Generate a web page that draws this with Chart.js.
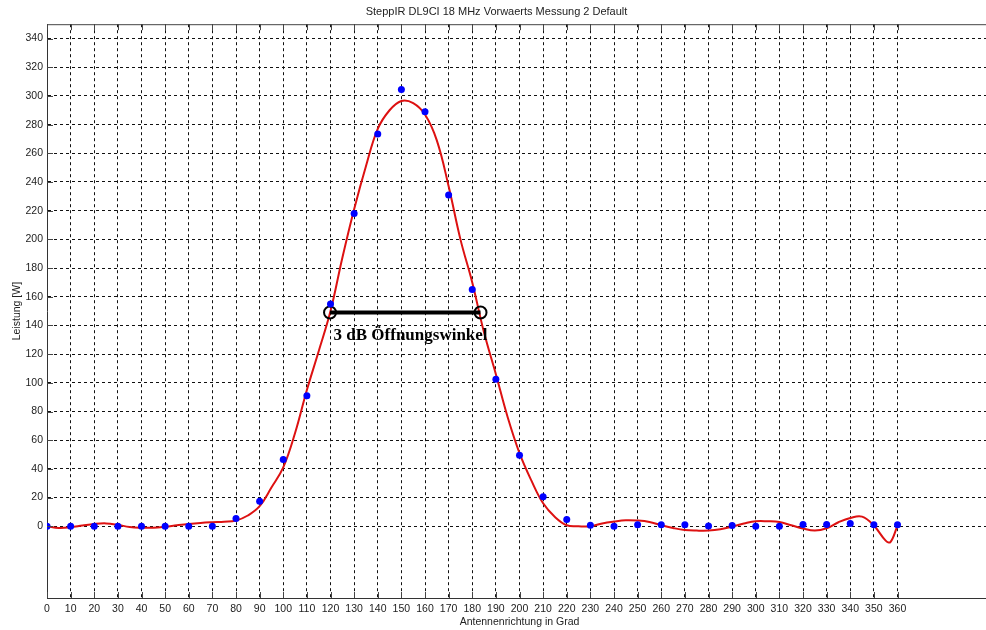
<!DOCTYPE html>
<html>
<head>
<meta charset="utf-8">
<script src="https://cdn.jsdelivr.net/npm/chart.js@4"></script>
<style>
  body { margin: 0; background: #fff; overflow: hidden; }
</style>
</head>
<body>
<canvas id="diagramm" width="1000" height="630"></canvas>
<script>
// Messpunkte (blaue Punkte)
const winkel = [0, 10, 20, 30, 40, 50, 60, 70, 80, 90, 100, 110, 120, 130, 140, 150, 160, 170, 180,
                190, 200, 210, 220, 230, 240, 250, 260, 270, 280, 290, 300, 310, 320, 330, 340, 350, 360];
const leistung = [0, 0, 0, 0, 0, 0, 0, 0, 5.5, 17.5, 46.5, 91, 155, 218, 273.5, 304.5, 289, 231, 165,
                  102.5, 49.5, 20.5, 4.7, 0.7, 0, 1, 1, 1, 0.2, 0.5, 0, 0, 1.2, 1.2, 2, 1, 1];

// rote Ausgleichskurve
const kurveWinkel = [0, 5, 10, 15, 20, 25, 30, 35, 40, 45, 50, 55, 60, 65, 70, 75, 80, 85, 90, 95,
                     100, 105, 110, 115, 120, 125, 130, 135, 140, 145, 150, 155, 160, 165, 170, 175, 180,
                     185, 190, 195, 200, 205, 210, 215, 220, 225, 230, 235, 240, 245, 250, 255, 260, 265,
                     270, 275, 280, 285, 290, 295, 300, 305, 310, 315, 320, 325, 330, 335, 340, 345, 350,
                     355, 357, 360];
const kurveWerte = [0, -1.2, -0.7, 0.5, 1.6, 2, 1, -0.5, -1, -1, -0.3, 0.7, 1.6, 2.3, 2.8, 3.2, 4, 7.5, 14, 27,
                    41, 65, 95, 122, 150, 187, 221, 251, 277, 290, 296.5, 295, 287, 269, 237, 200, 170,
                    135, 106, 76, 51, 32, 16, 6.5, 0.7, 0, 0, 2, 3.3, 4.2, 4, 3, 0.7, -1.2,
                    -2.6, -3, -3, -2.1, -0.2, 1.9, 3.5, 3.5, 3, 0.7, -1.6, -3, -1.4, 2.8, 5.8, 6.7, 0.5,
                    -10, -11, 0.5];

// 3 dB Oeffnungswinkel
const dbWinkel = [119.8, 183.5];
const dbWert = [149, 149];

const xTicks = [0, 10, 20, 30, 40, 50, 60, 70, 80, 90, 100, 110, 120, 130, 140, 150, 160, 170, 180,
                190, 200, 210, 220, 230, 240, 250, 260, 270, 280, 290, 300, 310, 320, 330, 340, 350, 360];
const yTicks = [0, 20, 40, 60, 80, 100, 120, 140, 160, 180, 200, 220, 240, 260, 280, 300, 320, 340];

const achsenSchrift = { family: "'Liberation Sans', Arial, sans-serif", size: 10.5 };

// Rahmen oben, Striche innen, Beschriftung
const rahmen = {
    id: "rahmen",
    afterDatasetsDraw(chart) {
        const c = chart.ctx;
        const a = chart.chartArea;
        const sx = chart.scales.x;
        const sy = chart.scales.y;
        c.save();
        c.strokeStyle = "#444";
        c.lineWidth = 1;
        c.beginPath();
        c.moveTo(a.left, a.top + 0.5);
        c.lineTo(a.right, a.top + 0.5);
        xTicks.forEach(v => {
            const px = Math.round(sx.getPixelForValue(v)) + 0.5;
            c.moveTo(px, a.top);
            c.lineTo(px, a.top + 6);
            c.moveTo(px, a.bottom);
            c.lineTo(px, a.bottom - 6);
        });
        yTicks.forEach(v => {
            const py = Math.round(sy.getPixelForValue(v)) + 0.5;
            c.moveTo(a.left, py);
            c.lineTo(a.left + 6, py);
        });
        c.stroke();

        c.fillStyle = "#000";
        c.font = "bold 17px 'Liberation Serif', 'Times New Roman', serif";
        c.textAlign = "left";
        c.textBaseline = "middle";
        c.fillText("3 dB Öffnungswinkel", sx.getPixelForValue(121.3), sy.getPixelForValue(133));
        c.restore();
    }
};

new Chart(document.getElementById("diagramm"), {
    type: "line",
    data: {
        datasets: [
            {
                label: "Messung",
                data: winkel.map((w, i) => ({ x: w, y: leistung[i] })),
                showLine: false,
                pointRadius: 3.5,
                pointBackgroundColor: "#0000ff",
                pointBorderColor: "#0000ff",
                pointBorderWidth: 0
            },
            {
                label: "3 dB",
                data: dbWinkel.map((w, i) => ({ x: w, y: dbWert[i] })),
                borderColor: "#000",
                borderWidth: 4,
                pointRadius: 6,
                pointBorderWidth: 2,
                pointBorderColor: "#000",
                pointBackgroundColor: "rgba(0,0,0,0)"
            },
            {
                label: "Kurve",
                data: kurveWinkel.map((w, i) => ({ x: w, y: kurveWerte[i] })),
                borderColor: "#dd1111",
                borderWidth: 2,
                pointRadius: 0,
                tension: 0.4
            }
        ]
    },
    options: {
        responsive: false,
        animation: false,
        layout: { padding: { right: 7 } },
        plugins: {
            legend: { display: false },
            tooltip: { enabled: false },
            title: {
                display: true,
                text: "SteppIR DL9CI 18 MHz Vorwaerts Messung 2 Default",
                color: "#222",
                font: { family: "'Liberation Sans', Arial, sans-serif", size: 11, weight: "normal" },
                padding: { top: 5, bottom: 6 }
            }
        },
        scales: {
            x: {
                type: "linear",
                min: 0,
                max: 400,
                afterBuildTicks: s => { s.ticks = xTicks.map(v => ({ value: v })); },
                afterFit: s => { s.height = 32; },
                grid: { color: "#111", drawTicks: false, lineWidth: 1 },
                border: { display: true, color: "#333", width: 1, dash: [3, 3] },
                ticks: { color: "#222", font: achsenSchrift, padding: 5, maxRotation: 0, autoSkip: false },
                title: {
                    display: true,
                    text: "Antennenrichtung in Grad",
                    color: "#222",
                    font: achsenSchrift,
                    padding: { top: 0, bottom: 2 }
                }
            },
            y: {
                min: -50,
                max: 350,
                afterBuildTicks: s => { s.ticks = yTicks.map(v => ({ value: v })); },
                afterFit: s => { s.width = 47; },
                grid: { color: "#111", drawTicks: false, lineWidth: 1 },
                border: { display: true, color: "#333", width: 1, dash: [3, 3] },
                ticks: { color: "#222", font: achsenSchrift, padding: 4, autoSkip: false },
                title: {
                    display: true,
                    text: "Leistung [W]",
                    color: "#222",
                    font: achsenSchrift,
                    padding: { top: 11, bottom: 0 }
                }
            }
        }
    },
    plugins: [rahmen]
});
</script>
</body>
</html>
